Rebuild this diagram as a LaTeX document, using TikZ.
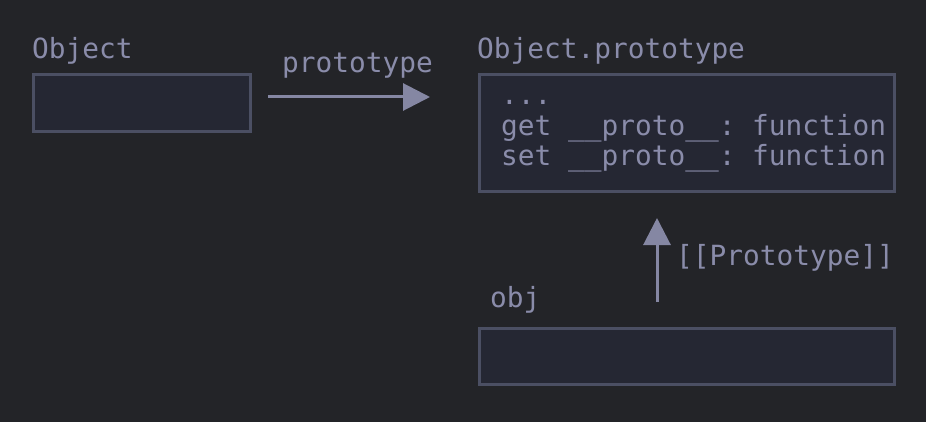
\documentclass[tikz,border=0pt]{standalone}
\usepackage{fontspec}
\setmonofont{DejaVu Sans Mono}
\usetikzlibrary{arrows.meta}
\definecolor{bgc}{HTML}{232428}
\definecolor{boxfill}{HTML}{252733}
\definecolor{boxline}{HTML}{4B4F63}
\definecolor{txt}{HTML}{8A8CAA}
\definecolor{arr}{HTML}{8587A3}
\begin{document}
\begin{tikzpicture}[x=1pt,y=-1pt,
  box/.style={draw=boxline,fill=boxfill,line width=3pt,rectangle,inner sep=0pt},
  lbl/.style={anchor=base west,inner sep=0pt,text=txt,font=\ttfamily\fontsize{27.8}{30}\selectfont},
  conn/.style={draw=arr,line width=3pt,-{Triangle[width=27pt,length=27pt]}}]
\fill[bgc] (0,0) rectangle (926,422);
\useasboundingbox (0,0) rectangle (926,422);
% boxes
\node[box,minimum width=217pt,minimum height=57pt] (objbox) at (142,103) {};
\node[box,minimum width=415pt,minimum height=117pt] (protobox) at (687,133) {};
\node[box,minimum width=415pt,minimum height=56pt] (ojbox) at (687,356.5) {};
% labels
\node[lbl] (objlbl) at (32,59) {Object};
\node[lbl] (protolbl) at (477,59) {Object.prototype};
\node[lbl] (ojlbl) at (490,307) {obj};
\node[lbl] (l1) at (501,105) {...};
\node[lbl] (l2) at (501,136) {get \_\_proto\_\_: function};
\node[lbl] (l3) at (501,166) {set \_\_proto\_\_: function};
% connectors
\coordinate (a1s) at (268,97);
\coordinate (a1e) at (430,97);
\coordinate (a2s) at (657,302);
\coordinate (a2e) at (657,218);
\draw[conn] (a1s) -- (a1e);
\draw[conn] (a2s) -- (a2e);
\node[lbl] (plbl) at (282,73) {prototype};
\node[lbl] (pplbl) at (676,265) {[[Prototype]]};
\end{tikzpicture}
\end{document}
